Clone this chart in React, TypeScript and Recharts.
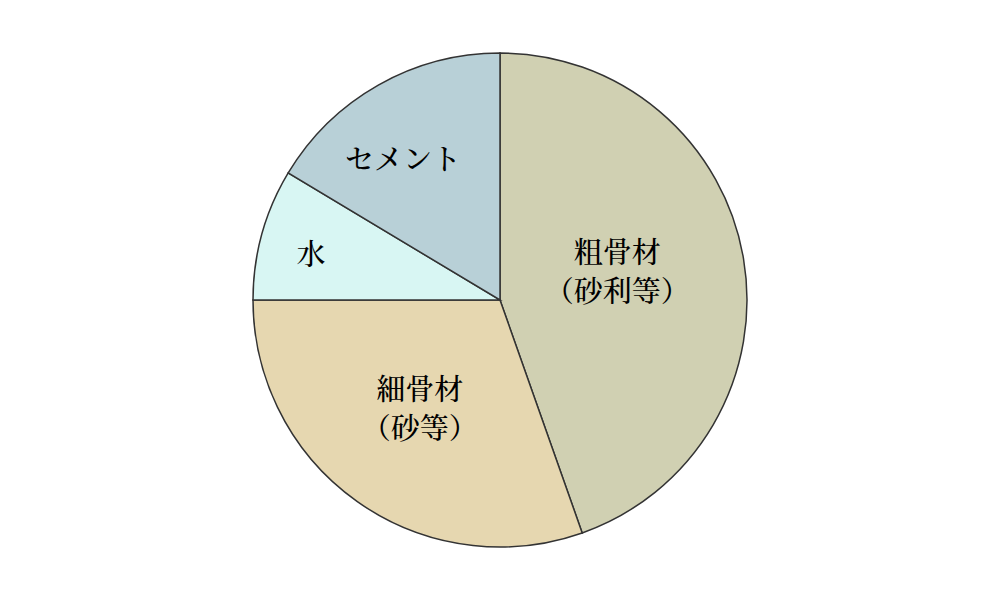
import { Cell, Pie, PieChart } from 'recharts'

const NAMES = ['粗骨材', '細骨材', '水', 'セメント']
const SUBNAMES = ['（砂利等）', '（砂等）', '', '']
const VALUES = [44.6, 30.4, 8.6, 16.4]
const COLORS = ['#d0d0b2', '#e6d7b0', '#d8f6f3', '#b8d0d7']

// label placement per slice: distance from centre and a small angle nudge
const LABEL_POS: Record<string, { r: number; a: number }> = {
  粗骨材: { r: 121, a: 4.7 },
  細骨材: { r: 133, a: -1.8 },
  水: { r: 195, a: 1.2 },
  セメント: { r: 173, a: 4.6 },
}

const data = NAMES.map((name, i) => ({ name, sub: SUBNAMES[i], value: VALUES[i] }))

const FONT = '"Noto Serif CJK JP", "Noto Sans CJK JP", serif'
const RAD = Math.PI / 180

function renderLabel(props: any) {
  const { cx, cy, midAngle, payload } = props
  const name = payload?.name ?? props.name
  const sub = payload?.sub ?? ''
  const pos = LABEL_POS[name] ?? { r: 120, a: 0 }
  const ang = (midAngle + pos.a) * RAD
  const x = cx + pos.r * Math.cos(ang)
  const y = cy - pos.r * Math.sin(ang)
  const lines = sub ? [name, sub] : [name]
  const lh = 39
  const y0 = y - ((lines.length - 1) * lh) / 2
  return (
    <text
      x={x}
      y={y0}
      textAnchor="middle"
      dominantBaseline="central"
      fontFamily={FONT}
      fontSize={29}
      fontWeight={500}
      fill="#000"
    >
      {lines.map((l, i) => (
        <tspan key={i} x={x} y={y0 + i * lh}>
          {l}
        </tspan>
      ))}
    </text>
  )
}

export default function App() {
  return (
    <div style={{ position: 'absolute', left: 0, top: 0, width: 1000, height: 600, background: '#fff' }}>
      <PieChart width={1000} height={600} margin={{ top: 0, right: 0, bottom: 0, left: 0 }}>
        <Pie
          data={data}
          dataKey="value"
          nameKey="name"
          cx={500}
          cy={300}
          outerRadius={247}
          startAngle={90}
          endAngle={-270}
          stroke="#333"
          strokeWidth={1.5}
          label={renderLabel}
          labelLine={false}
          isAnimationActive={false}
        >
          {data.map((_, i) => (
            <Cell key={i} fill={COLORS[i]} />
          ))}
        </Pie>
      </PieChart>
    </div>
  )
}
